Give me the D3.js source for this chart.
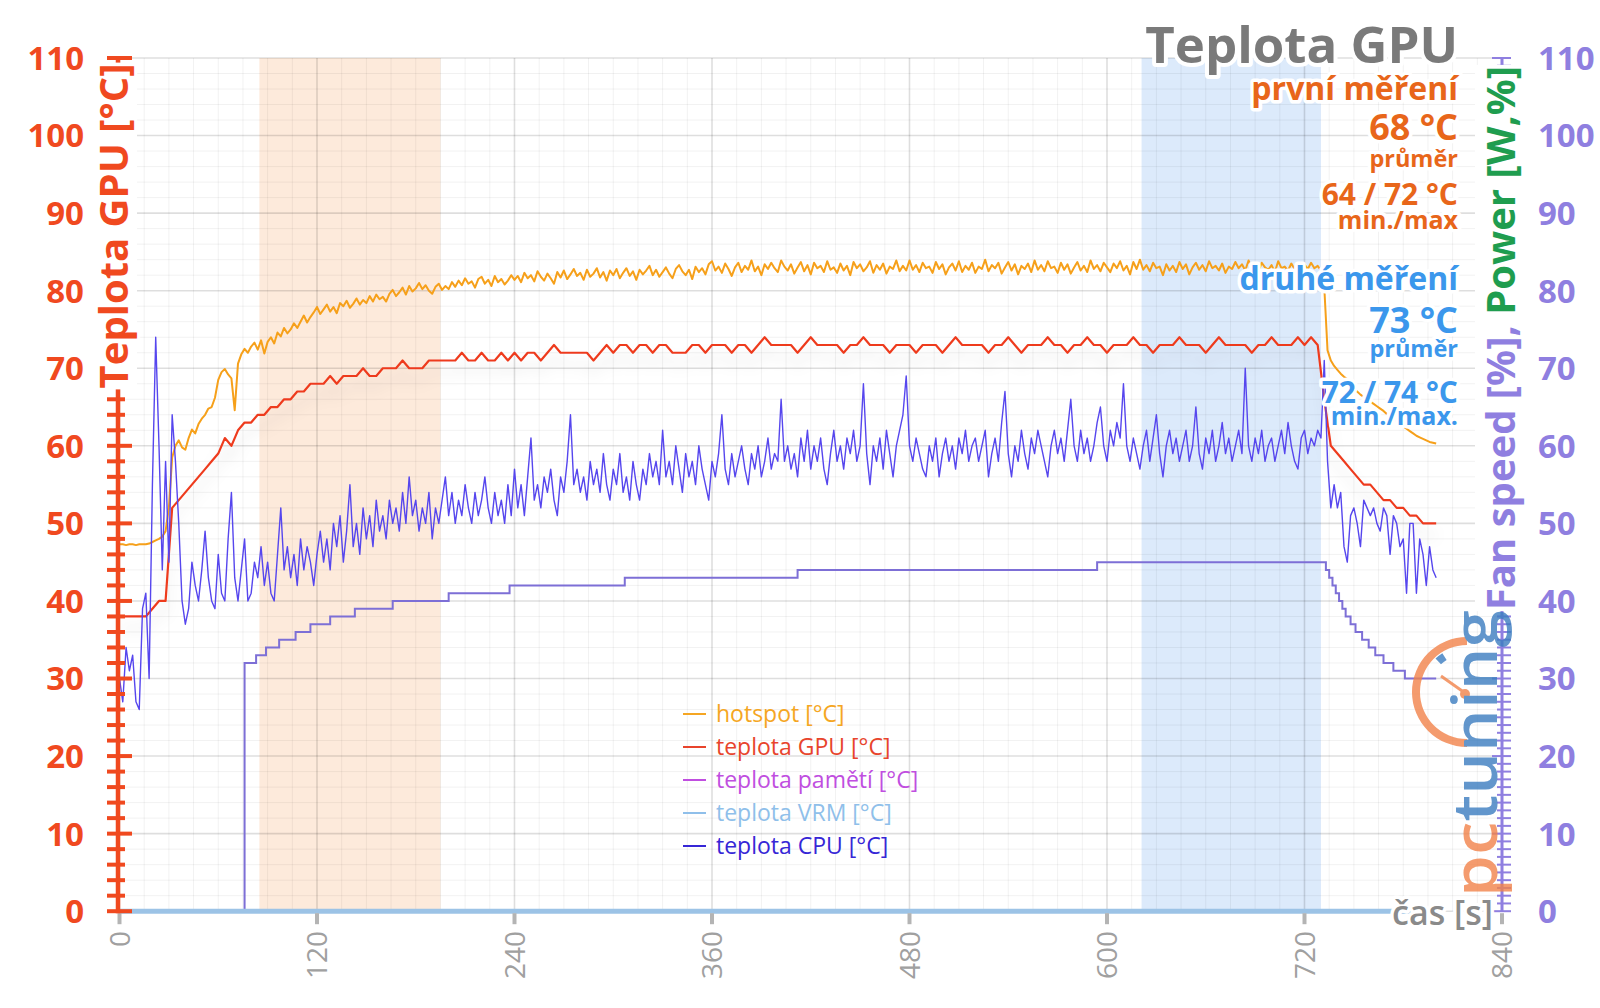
<!DOCTYPE html>
<html><head><meta charset="utf-8">
<script src="https://cdn.jsdelivr.net/npm/d3@7"></script>
<style>
html,body{margin:0;padding:0;background:#fff;}
svg{display:block;font-family:"Open Sans",sans-serif;}
</style></head>
<body><svg id="chart" width="1600" height="1008"></svg>
<script>
// ---------------- DATA ----------------
const hotStep = 2;      // s, hotspot samples
const gpuStep = 4;      // s, GPU samples
const cpuStep = 2;      // s, CPU samples
const hotspot = [
47.3,47.3,47.2,47.3,47.3,47.2,47.3,47.3,47.3,47.4,47.6,47.8,48.0,48.3,49.0,52.0,58.5,60.0,60.7,59.8,
59.5,61.0,62.1,61.6,62.8,63.5,64.0,64.8,65.0,66.2,68.5,69.5,69.9,69.2,68.7,64.6,70.6,71.8,72.5,72.0,
72.8,73.3,72.4,73.6,71.9,73.4,74.0,73.2,74.6,74.1,75.2,74.5,75.0,75.8,75.2,76.0,76.8,75.9,76.6,77.2,
77.9,77.0,77.6,78.2,77.3,77.9,77.1,78.4,78.0,78.7,77.8,78.3,79.0,78.2,78.8,78.4,79.3,78.6,79.5,78.9,
79.2,78.6,79.6,80.1,79.3,79.8,80.4,79.5,80.6,79.9,80.3,81.0,80.2,80.7,80.0,79.6,80.5,80.9,80.1,80.6,
80.2,81.1,80.5,81.3,80.7,81.6,80.9,81.2,80.4,81.5,81.8,80.9,81.4,80.6,81.9,81.1,81.5,80.8,81.3,82.0,
81.4,81.9,81.1,82.3,81.6,82.0,81.2,82.5,81.8,81.3,82.2,81.6,80.9,82.4,81.7,82.6,81.5,82.1,82.8,81.9,
82.3,81.4,82.7,81.8,82.2,82.9,81.7,82.4,81.3,82.6,82.0,82.8,81.6,82.3,82.9,81.9,82.5,81.4,82.7,82.1,
82.6,83.2,82.0,82.7,81.8,82.4,83.0,82.2,81.6,82.8,83.3,82.5,82.0,82.7,81.5,83.1,82.4,82.9,82.1,83.4,
83.8,82.6,83.1,82.3,83.5,82.8,81.9,83.0,83.6,82.4,83.2,82.7,83.9,82.5,83.1,82.0,83.4,82.8,83.6,82.9,
82.4,83.9,83.1,82.6,83.4,82.2,83.0,83.7,82.5,83.3,82.1,83.6,82.9,83.2,82.4,83.8,82.7,83.0,82.3,83.5,
82.6,83.2,82.0,83.7,82.9,83.4,82.5,83.0,83.8,82.3,83.3,82.7,83.5,82.2,83.1,82.8,83.9,82.5,83.2,82.6,
83.9,82.7,83.3,82.4,83.6,82.9,83.1,82.3,83.7,82.8,83.4,82.1,83.0,83.5,82.6,83.8,82.4,83.2,82.7,83.6,
82.3,83.1,82.8,84.0,82.5,83.3,82.9,83.6,82.2,83.0,83.7,82.6,83.4,82.1,83.2,82.8,83.5,82.4,83.9,82.7,
83.3,82.5,83.8,82.9,83.1,82.3,83.6,82.7,83.4,82.2,83.0,83.7,82.6,83.2,82.4,83.9,82.8,83.3,82.5,83.6,
83.0,82.4,83.5,82.9,83.8,82.6,83.2,82.1,83.7,82.8,84.0,82.7,83.3,82.5,83.6,82.9,83.1,82.0,83.4,82.6,
83.2,82.4,83.7,82.8,83.4,82.1,83.0,83.6,82.7,83.3,82.5,83.8,82.9,83.2,82.6,83.5,82.3,83.1,82.8,83.7,
82.9,83.4,82.6,83.9,82.8,83.2,82.5,83.6,83.0,82.7,83.3,82.4,83.8,82.9,83.1,82.6,83.5,82.8,83.2,82.7,
83.4,82.8,83.6,82.9,83.2,82.6,80.5,72.3,71.0,70.3,69.8,69.3,68.9,68.6,68.0,67.5,67.0,66.6,66.3,66.0,
65.7,65.4,65.1,64.8,64.5,64.1,63.8,63.5,63.2,62.9,62.5,62.2,61.9,61.6,61.3,61.1,60.9,60.7,60.5,60.4,
60.3];
const gpuTemp = [
38,38,38,38,38,39,40,40,52,53,
54,55,56,57,58,59,61,60,62,63,
63,64,64,65,65,66,66,67,67,68,
68,68,69,68,69,69,69,70,69,69,
70,70,70,71,70,70,70,71,71,71,
71,71,72,71,71,72,71,71,72,71,
72,71,72,72,71,72,73,72,72,72,
72,72,71,72,73,72,73,73,72,73,
73,72,73,73,72,72,72,73,73,72,
73,73,73,72,73,73,72,73,74,73,
73,73,73,72,73,74,73,73,73,73,
72,73,73,74,73,73,73,72,73,73,
73,72,73,73,73,72,73,74,73,73,
73,73,72,73,73,74,73,72,73,73,
73,74,73,73,72,73,73,74,73,73,
72,73,73,73,74,73,73,72,73,73,
73,74,73,73,73,72,73,74,73,73,
73,73,72,73,73,74,73,73,73,74,
73,74,73,66,60,59,58,57,56,55,
55,54,53,53,52,52,51,51,50,50,
50];
const cpuTemp = [
30,27,34,31,33,27,26,39,41,30,55,74,60,44,58,45,64,58,50,40,
37,39,45,42,40,44,49,43,40,39,46,41,40,48,54,43,40,44,48,40,
41,45,43,47,42,45,41,40,46,52,44,47,43,46,42,48,44,47,45,42,
46,49,45,48,44,50,47,51,45,49,55,47,50,46,52,48,51,47,53,49,
51,48,53,50,52,49,54,50,56,51,53,49,52,50,54,48,52,50,53,56,
51,54,50,53,51,55,52,50,54,51,53,56,52,50,54,51,53,50,55,51,
57,52,55,51,56,61,53,55,52,56,54,57,53,51,56,54,58,64,55,57,
54,56,53,58,55,57,54,59,55,53,57,55,59,54,56,53,58,55,53,57,
55,59,56,58,55,62,56,58,55,60,57,54,59,56,58,55,60,57,55,53,
58,56,59,64,57,55,59,56,58,60,57,55,59,57,60,56,58,61,57,59,
58,66,58,60,57,59,56,61,58,62,57,60,58,61,57,55,59,62,58,60,
57,61,59,62,58,60,68,59,55,60,58,61,57,62,59,56,60,62,64,69,
60,58,61,59,57,56,60,58,61,56,59,61,58,60,57,61,59,62,58,60,
61,58,60,62,56,59,61,58,63,67,59,56,60,58,62,59,57,61,59,62,
60,58,56,60,62,59,61,58,62,66,60,58,62,59,61,58,60,63,65,60,
58,62,60,63,61,68,60,58,61,59,57,60,62,58,61,64,59,56,60,62,
59,61,58,60,62,58,60,65,59,57,61,59,62,58,60,63,59,61,58,60,
62,59,70,60,58,61,59,62,58,60,61,58,60,62,59,63,60,58,57,61,
62,59,61,60,62,61,71,58,52,55,52,54,47,45,51,52,50,47,53,52,
51,52,50,49,52,51,46,51,50,47,48,41,50,50,41,48,46,42,47,44,
43];
const fanTimes = [0,76,83,89,97,107,116,128,143,166,200,237,307,412,594,
                  733,735,737,739,741,743,745,748,751,755,759,763,768,774,781,800];
const fanSpeed = [0,32,33,34,35,36,37,38,39,40,41,42,43,44,45,
                  44,43,42,41,40,39,38,37,36,35,34,33,32,31,30,30];
const bandFirst = [85, 195];
const bandSecond = [621, 730];
const xTicks = [0,120,240,360,480,600,720,840];
const yTicks = [0,10,20,30,40,50,60,70,80,90,100,110];
const legendLabels = ["hotspot [°C]","teplota GPU [°C]","teplota pamětí [°C]","teplota VRM [°C]","teplota CPU [°C]"];
const legendColors = ["#f5a623","#e8442c","#c04ee0","#8fbfea","#3626d6"];
const chartTitle = "Teplota GPU";
const infoFirst = ["první měření","68 °C","průměr","64 / 72 °C","min./max"];
const infoSecond = ["druhé měření","73 °C","průměr","72 / 74 °C","min./max."];
const leftTitle = "Teplota GPU [°C]";
const rightTitleParts = ["Fan speed [%], ","Power [W,%]"];
const xTitle = "čas [s]";

// ---------------- SETUP ----------------
const svg = d3.select("#chart");
const x = d3.scaleLinear().domain([0, 840]).range([119.5, 1502]);
const y = d3.scaleLinear().domain([0, 110]).range([911.2, 58]);
const RED = "#f0491f", PURPLE = "#8f7fe0", GREEN = "#1f9d4f";
const ORANGE_T = "#e8661a", BLUE_T = "#3b97ec";

function halo(sel, w) {
  return sel.attr("stroke", "#fff").attr("stroke-width", w)
    .attr("stroke-linejoin", "round").attr("paint-order", "stroke");
}
function backed(g, textSel, pad) {
  const b = textSel.node().getBBox();
  g.insert("rect", "text").attr("x", b.x - pad).attr("y", b.y + 4 - pad)
    .attr("width", b.width + 2 * pad).attr("height", b.height - 8 + 2 * pad).attr("fill", "#fff");
}

const defs = svg.append("defs");
defs.append("filter").attr("id", "shadow")
  .attr("x", "-5%").attr("y", "-30%").attr("width", "110%").attr("height", "180%")
  .append("feDropShadow").attr("dx", 0).attr("dy", 12).attr("stdDeviation", 7)
  .attr("flood-color", "#000").attr("flood-opacity", 0.13);

// bands
const bands = [{r: bandFirst, c: "#fdeadb"}, {r: bandSecond, c: "#dceafb"}];
svg.append("g").selectAll("rect").data(bands).join("rect")
  .attr("x", d => x(d.r[0])).attr("width", d => x(d.r[1]) - x(d.r[0]))
  .attr("y", y(110)).attr("height", y(0) - y(110)).attr("fill", d => d.c);

// grid
const grid = svg.append("g");
grid.selectAll("line.h").data(d3.range(0, 111, 2)).join("line")
  .attr("x1", x(0)).attr("x2", x(840)).attr("y1", d => y(d)).attr("y2", d => y(d))
  .attr("stroke", d => d % 10 === 0 ? "rgba(0,0,0,0.13)" : "rgba(0,0,0,0.055)")
  .attr("stroke-width", d => d % 10 === 0 ? 1.6 : 1);
grid.selectAll("line.v").data(d3.range(0, 841, 15)).join("line")
  .attr("y1", y(0)).attr("y2", y(110)).attr("x1", d => x(d)).attr("x2", d => x(d))
  .attr("stroke", d => d % 120 === 0 ? "rgba(0,0,0,0.13)" : "rgba(0,0,0,0.055)")
  .attr("stroke-width", d => d % 120 === 0 ? 1.6 : 1);

// series
const line = d3.line().x(d => x(d[0])).y(d => y(d[1]));
const fanPts = fanTimes.map((t, i) => [t, fanSpeed[i]]);
svg.append("path").attr("d", d3.line().curve(d3.curveStepAfter).x(d => x(d[0])).y(d => y(d[1]))(fanPts))
  .attr("fill", "none").attr("stroke", "#7d6fd6").attr("stroke-width", 2);
svg.append("path").attr("d", line(hotspot.map((v, i) => [i * hotStep, v])))
  .attr("fill", "none").attr("stroke", "#f6a01a").attr("stroke-width", 2).attr("stroke-linejoin", "round");
svg.append("path").attr("d", line(gpuTemp.map((v, i) => [i * gpuStep, v])))
  .attr("fill", "none").attr("stroke", "#ee3b1f").attr("stroke-width", 2.2)
  .attr("stroke-linejoin", "round").attr("filter", "url(#shadow)");
svg.append("path").attr("d", line(cpuTemp.map((v, i) => [i * cpuStep, v])))
  .attr("fill", "none").attr("stroke", "#5646ee").attr("stroke-width", 1.4).attr("stroke-linejoin", "round");

// x axis
const tEnd = (hotspot.length - 1) * hotStep;
svg.append("line").attr("x1", x(0)).attr("x2", x(tEnd)).attr("y1", y(0)).attr("y2", y(0))
  .attr("stroke", "#9cc3e6").attr("stroke-width", 5);
svg.append("g").selectAll("line").data(xTicks).join("line")
  .attr("x1", d => x(d)).attr("x2", d => x(d)).attr("y1", y(0) + 2).attr("y2", y(0) + 13)
  .attr("stroke", "#b4b4b4").attr("stroke-width", 4);
svg.append("g").selectAll("text").data(xTicks).join("text")
  .attr("transform", d => `translate(${x(d)},931) rotate(-90)`)
  .attr("text-anchor", "end").attr("dy", "0.36em")
  .attr("font-size", 28).attr("fill", "#a0a0a0").text(d => d);

// left axis
const la = svg.append("g");
la.append("line").attr("x1", x(0) - 1.5).attr("x2", x(0) - 1.5).attr("y1", y(0) + 2).attr("y2", y(110))
  .attr("stroke", RED).attr("stroke-width", 4.5);
la.selectAll("line.t").data(d3.range(0, 111, 2)).join("line")
  .attr("x1", 107).attr("x2", d => d % 10 === 0 ? 132 : 125)
  .attr("y1", d => y(d)).attr("y2", d => y(d)).attr("stroke", RED).attr("stroke-width", 4);
la.selectAll("text").data(yTicks).join("text")
  .attr("x", 84).attr("y", d => y(d)).attr("dy", "0.36em").attr("text-anchor", "end")
  .attr("font-size", 33).attr("font-weight", 700).attr("fill", RED).text(d => d);

// right axis
const ra = svg.append("g");
ra.append("line").attr("x1", 1502).attr("x2", 1502).attr("y1", y(0)).attr("y2", y(110))
  .attr("stroke", PURPLE).attr("stroke-width", 3);
ra.selectAll("line.t").data(d3.range(0, 111, 1)).join("line")
  .attr("x1", d => d % 10 === 0 ? 1492 : 1497).attr("x2", 1511)
  .attr("y1", d => y(d)).attr("y2", d => y(d)).attr("stroke", PURPLE).attr("stroke-width", 2);
ra.selectAll("text").data(yTicks).join("text")
  .attr("x", 1538).attr("y", d => y(d)).attr("dy", "0.36em").attr("text-anchor", "start")
  .attr("font-size", 33).attr("font-weight", 700).attr("fill", PURPLE).text(d => d);

// axis titles (white backing covers the axis lines)
const ltg = svg.append("g").attr("transform", `translate(128,226) rotate(-90)`);
const ltt = halo(ltg.append("text").attr("text-anchor", "middle").attr("font-size", 40)
  .attr("font-weight", 700).attr("fill", RED).text(leftTitle), 6);
backed(ltg, ltt, 1);
const rtg = svg.append("g").attr("transform", `translate(1515,338) rotate(-90)`);
const rtt = halo(rtg.append("text").attr("text-anchor", "middle").attr("font-size", 40).attr("font-weight", 700), 6);
rtt.append("tspan").attr("fill", PURPLE).text(rightTitleParts[0]);
rtt.append("tspan").attr("fill", GREEN).text(rightTitleParts[1]);
backed(rtg, rtt, 1);
halo(svg.append("text").attr("x", 1493).attr("y", 925).attr("text-anchor", "end")
  .attr("font-size", 34).attr("font-weight", 600).attr("fill", "#8a8a8a").text(xTitle), 7);

// legend
const lg = svg.append("g");
legendLabels.forEach((lab, i) => {
  const cy = 714 + i * 33;
  lg.append("line").attr("x1", 683).attr("x2", 706).attr("y1", cy).attr("y2", cy)
    .attr("stroke", legendColors[i]).attr("stroke-width", 2);
  lg.append("text").attr("x", 716).attr("y", cy).attr("dy", "0.35em")
    .attr("font-size", 23).attr("fill", legendColors[i]).text(lab);
});

// title + info
halo(svg.append("text").attr("x", 1458).attr("y", 63).attr("text-anchor", "end")
  .attr("font-size", 51).attr("font-weight", 700).attr("fill", "#7a7a7a").text(chartTitle), 8);
const infoSizes = [32, 36, 23.5, 30, 25];
const baseFirst = [100, 140, 167, 205, 229];
const baseSecond = [290, 333, 357, 403, 425];
infoFirst.forEach((t, i) => halo(svg.append("text").attr("x", 1458).attr("y", baseFirst[i])
  .attr("text-anchor", "end").attr("font-size", infoSizes[i]).attr("font-weight", 700)
  .attr("fill", ORANGE_T).text(t), 7));
infoSecond.forEach((t, i) => halo(svg.append("text").attr("x", 1458).attr("y", baseSecond[i])
  .attr("text-anchor", "end").attr("font-size", infoSizes[i]).attr("font-weight", 700)
  .attr("fill", BLUE_T).text(t), 7));

// logo
const logo = svg.append("g").attr("opacity", 0.8);
logo.append("path").attr("transform", "translate(1467,692)")
  .attr("d", d3.arc().innerRadius(47).outerRadius(55).startAngle(Math.PI).endAngle(2 * Math.PI)())
  .attr("fill", "#f2834a");
logo.append("path").attr("transform", "translate(1467,692)")
  .attr("d", d3.arc().innerRadius(38).outerRadius(46).startAngle(1.76 * Math.PI).endAngle(1.82 * Math.PI)())
  .attr("fill", "#3b7dc0");
logo.append("line").attr("x1", 1465).attr("y1", 693).attr("x2", 1441).attr("y2", 676)
  .attr("stroke", "#f2834a").attr("stroke-width", 3);
logo.append("circle").attr("cx", 1465).attr("cy", 694).attr("r", 5).attr("fill", "#f2834a");
const lt = logo.append("text").attr("transform", "translate(1497,897) rotate(-90)")
  .attr("font-size", 62).attr("font-weight", 600).attr("textLength", 287).attr("lengthAdjust", "spacingAndGlyphs");
lt.append("tspan").attr("fill", "#f2834a").text("pc");
lt.append("tspan").attr("fill", "#3b7dc0").text("tuning");
</script></body></html>
